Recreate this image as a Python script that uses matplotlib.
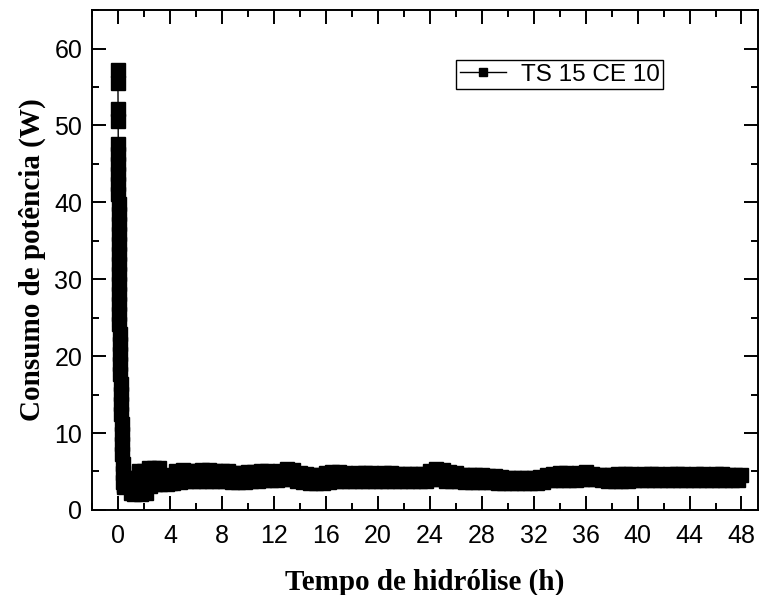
import numpy as np
import matplotlib
matplotlib.use("Agg")
import matplotlib.pyplot as plt
from matplotlib.ticker import MultipleLocator

# Start-up transient (0 to 4 h): sharp fall from the initial peak, then settling
early_h = [0.00, 0.00, 0.01, 0.01, 0.02, 0.02, 0.03, 0.03, 0.04, 0.04,
           0.05, 0.05, 0.06, 0.06, 0.07, 0.07, 0.08, 0.08, 0.09, 0.09,
           0.10, 0.11, 0.12, 0.13, 0.14, 0.15, 0.16, 0.18, 0.20, 0.22,
           0.24, 0.26, 0.28, 0.30, 0.32, 0.34, 0.36, 0.38, 0.40, 0.45,
           0.500, 0.625, 0.750, 0.875, 1.000, 1.125, 1.250, 1.375,
           1.500, 1.625, 1.750, 1.875, 2.000, 2.125, 2.250, 2.375,
           2.500, 2.625, 2.750, 2.875, 3.000, 3.125, 3.250, 3.375,
           3.500, 3.625, 3.750, 3.875, 4.000]
early_w = [57.2, 55.5, 52.2, 50.6, 47.6, 46.3, 45.0, 43.7, 42.4, 41.1,
           39.8, 38.5, 37.2, 35.9, 34.6, 33.3, 32.0, 30.7, 29.4, 28.1,
           26.8, 25.5, 24.2, 22.9, 21.6, 20.3, 19.0, 17.7, 16.4, 15.1,
           13.8, 12.5, 11.2, 9.9, 8.6, 7.3, 6.0, 4.8, 3.6, 3.0,
           3.2, 4.0, 3.1, 4.2, 2.2, 3.6, 2.1, 4.2,
           2.6, 5.1, 2.1, 4.0, 5.1, 2.2, 3.6, 5.4,
           3.1, 4.4, 5.5, 3.4, 4.5, 5.5, 3.4, 4.4,
           3.5, 4.4, 3.4, 4.6, 3.5]

# Steady regime, readings every half hour (peaks at 4.5, 5.0, ... 48.0 h)
peak_w = [5.1, 5.2, 5.1, 5.1, 5.2, 5.2, 5.0, 5.0,
          5.0, 4.8, 4.8, 4.9, 4.9, 5.0, 5.0, 4.9,
          5.1, 5.3, 5.2, 4.8, 4.7, 4.6, 4.6, 4.8,
          4.9, 4.9, 4.8, 4.7, 4.8, 4.8, 4.8, 4.7,
          4.8, 4.8, 4.7, 4.7, 4.7, 4.7, 4.7, 5.1,
          5.3, 5.2, 4.9, 4.8, 4.6, 4.6, 4.6, 4.5,
          4.4, 4.4, 4.3, 4.2, 4.2, 4.2, 4.2, 4.2,
          4.3, 4.6, 4.7, 4.8, 4.8, 4.7, 4.8, 4.9,
          4.7, 4.6, 4.6, 4.6, 4.7, 4.7, 4.7, 4.6,
          4.7, 4.7, 4.7, 4.6, 4.7, 4.7, 4.7, 4.6,
          4.7, 4.7, 4.6, 4.7, 4.7, 4.6, 4.6, 4.5]
# Intermediate readings (4.25, 4.75, ... 47.75 h)
trough_w = [3.5,
            3.6, 3.8, 3.8, 3.8, 3.8, 3.7, 3.8, 3.8,
            3.6, 3.6, 3.6, 3.7, 3.8, 3.9, 3.9, 3.9,
            4.0, 4.0, 3.8, 3.6, 3.5, 3.5, 3.5, 3.6,
            3.8, 3.8, 3.8, 3.8, 3.8, 3.8, 3.8, 3.8,
            3.8, 3.8, 3.8, 3.8, 3.8, 3.8, 3.8, 4.0,
            4.0, 3.8, 3.8, 3.7, 3.6, 3.6, 3.6, 3.6,
            3.6, 3.5, 3.5, 3.5, 3.5, 3.5, 3.5, 3.5,
            3.6, 3.9, 3.9, 3.9, 3.9, 3.9, 4.0, 4.0,
            4.0, 3.9, 3.8, 3.7, 3.7, 3.8, 3.9, 3.9,
            3.9, 3.9, 3.9, 3.9, 3.9, 3.9, 3.9, 3.9,
            3.9, 3.9, 3.9, 3.9, 3.9, 3.9, 3.9]

series_label = "TS 15 CE 10"
x_label = "Tempo de hidrólise (h)"
y_label = "Consumo de potência (W)"

# Merge trough/peak readings into one time-ordered series
trough_h = 4.25 + 0.5 * np.arange(len(trough_w))
peak_h = 4.5 + 0.5 * np.arange(len(peak_w))
steady_h = np.empty(len(peak_h) + len(trough_h))
steady_w = np.empty_like(steady_h)
steady_h[0::2], steady_h[1::2] = trough_h, peak_h
steady_w[0::2], steady_w[1::2] = trough_w, peak_w

hours = np.concatenate([early_h, steady_h])
power = np.concatenate([early_w, steady_w])

plt.rcParams["font.family"] = ["Liberation Sans", "DejaVu Sans"]

fig = plt.figure(figsize=(7.6, 5.95), dpi=100)
ax = fig.add_axes([0.121, 0.143, 0.876, 0.840])

ax.plot(hours, power, "-s", color="black", lw=1.0, ms=9.4,
        mec="black", mfc="black", label=series_label)

ax.set_xlim(-2.0, 49.25)
ax.set_ylim(0, 65)
ax.xaxis.set_major_locator(MultipleLocator(4))
ax.xaxis.set_minor_locator(MultipleLocator(2))
ax.yaxis.set_major_locator(MultipleLocator(10))
ax.yaxis.set_minor_locator(MultipleLocator(5))

ax.tick_params(which="both", direction="in", top=True, right=True,
               width=1.4, labelsize=18)
ax.tick_params(which="major", length=10)
ax.tick_params(axis="x", which="major", pad=10)
ax.tick_params(axis="y", which="major", pad=7)
ax.tick_params(which="minor", length=5)
for s in ax.spines.values():
    s.set_linewidth(1.4)

serif_bold = dict(family=["Liberation Serif", "DejaVu Serif"],
                  weight="bold", size=21)
ax.set_xlabel(x_label, labelpad=15, **serif_bold)
ax.set_ylabel(y_label, labelpad=6, **serif_bold)

leg = ax.legend(loc="upper left", bbox_to_anchor=(0.547, 0.90),
                borderaxespad=0, frameon=True, fancybox=False,
                edgecolor="black", framealpha=1, fontsize=17.5,
                markerscale=0.62, handlelength=1.9, handletextpad=0.6,
                borderpad=0.15)
leg.get_frame().set_linewidth(1.0)

fig.savefig("out.png", dpi=100)
